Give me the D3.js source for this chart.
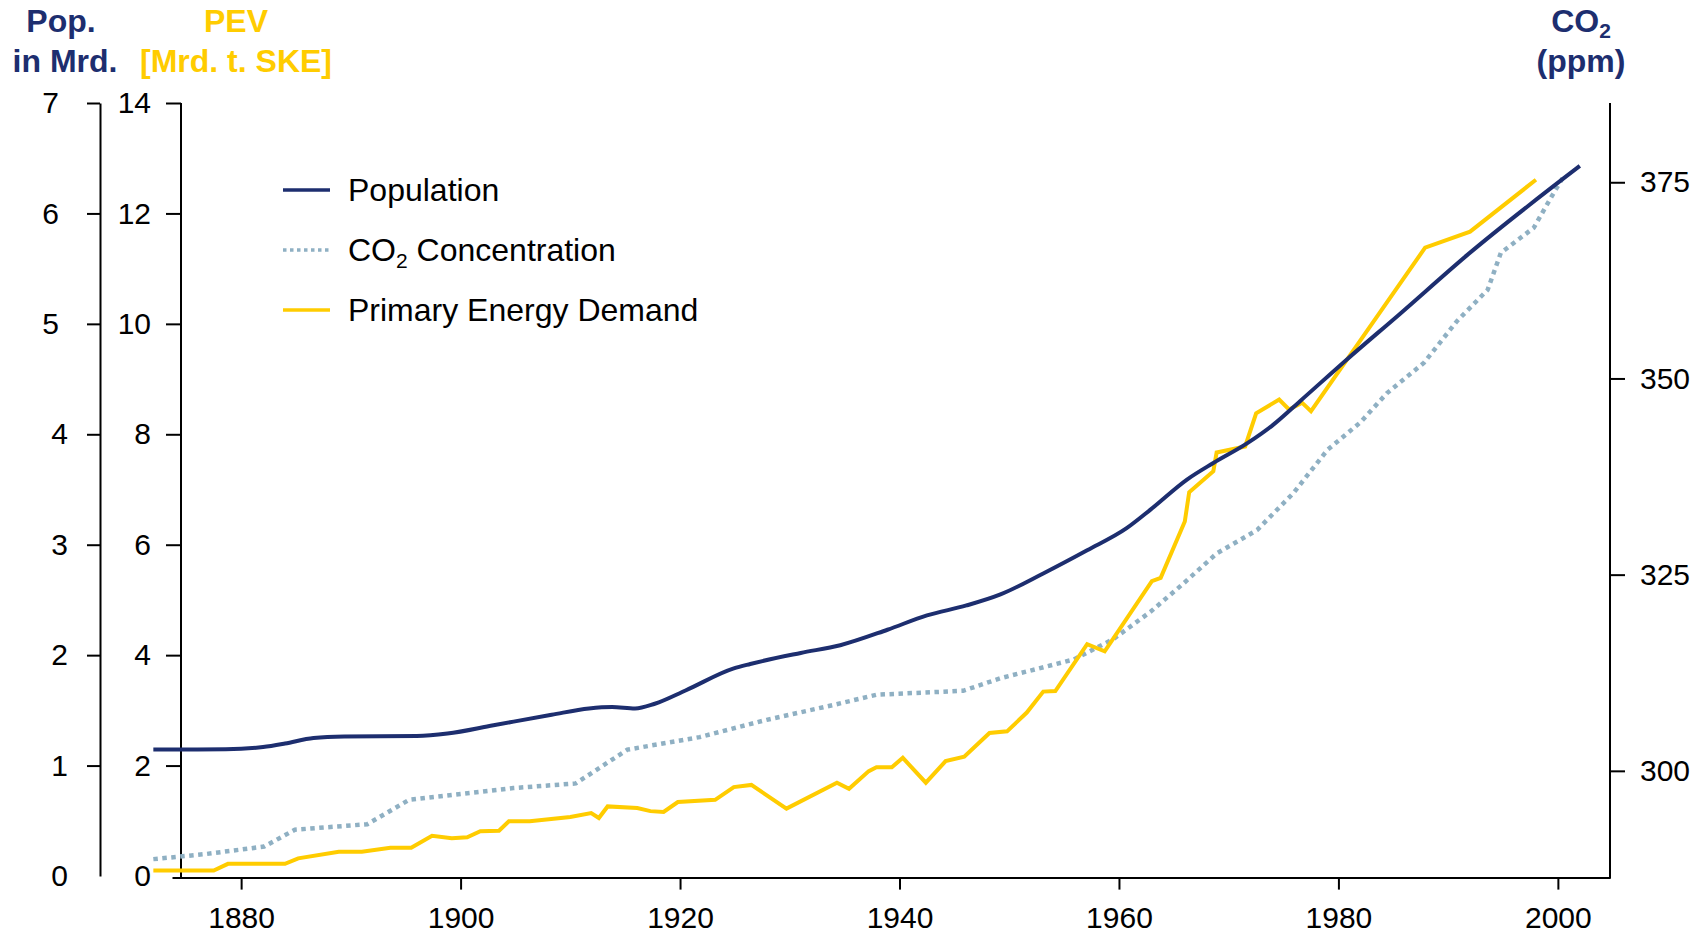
<!DOCTYPE html>
<html>
<head>
<meta charset="utf-8">
<script src="https://cdn.jsdelivr.net/npm/d3@7"></script>
<style>
body { margin:0; background:#fff; }
svg { font-family: "Liberation Sans", Arial, sans-serif; }
.axis path, .axis line { stroke:#000; stroke-width:2; }
.axis text { font-size:30px; fill:#000; font-family: "Liberation Sans", Arial, sans-serif; }
.title { font-size:32px; font-weight:bold; text-anchor:middle; }
.legend { font-size:32px; fill:#000; }
</style>
</head>
<body>
<script>
const w = 1703;
const h = 934;

const navy = "#1d2e6f";
const yellow = "#ffcc00";
const grey = "#8fb0c3";

// ticks
const xTicks = [1880, 1900, 1920, 1940, 1960, 1980, 2000];
const popTicks = [0, 1, 2, 3, 4, 5, 6, 7];
const pevTicks = [0, 2, 4, 6, 8, 10, 12, 14];
const co2Ticks = [300, 325, 350, 375];

// population, Mrd.
const popYears = [1872, 1878.6, 1882, 1884, 1886.6, 1889.4, 1896, 1898.8, 1903, 1908.3, 1911.7, 1913.8, 1915.9, 1917.7, 1920.5, 1924.9, 1926.4, 1931, 1934.6, 1938.9, 1942.5, 1946.1, 1949.2, 1953.1, 1957.1, 1960.7, 1962.9, 1966.2, 1968.6, 1971.7, 1974.1, 1976.5, 1980.8, 1985.6, 1991.7, 2002];
const popValues = [1.145, 1.147, 1.168, 1.20, 1.25, 1.263, 1.268, 1.29, 1.365, 1.46, 1.517, 1.53, 1.517, 1.56, 1.68, 1.88, 1.92, 2.02, 2.09, 2.23, 2.36, 2.45, 2.55, 2.74, 2.95, 3.15, 3.32, 3.59, 3.74, 3.92, 4.09, 4.30, 4.68, 5.09, 5.62, 6.43];

// primary energy demand, Mrd. t. SKE
const pevYears = [1872, 1877.5, 1878.8, 1884, 1885.2, 1888.9, 1891, 1893.6, 1895.5, 1897.4, 1899.2, 1900.6, 1901.8, 1903.5, 1904.4, 1906.3, 1910, 1911.9, 1912.6, 1913.4, 1916.1, 1917.3, 1918.5, 1919.8, 1923.2, 1924.9, 1926.5, 1929.7, 1934.3, 1935.4, 1937.2, 1937.9, 1939.3, 1940.3, 1942.4, 1944.2, 1945.9, 1948.2, 1949.8, 1951.6, 1953.1, 1954.2, 1957.1, 1958.7, 1963.0, 1963.8, 1966.0, 1966.4, 1968.6, 1968.9, 1971.5, 1972.5, 1974.6, 1975.5, 1976.7, 1977.5, 1987.9, 1992.0, 1998.0];
const pevValues = [0.10, 0.10, 0.22, 0.22, 0.32, 0.44, 0.44, 0.51, 0.51, 0.73, 0.685, 0.70, 0.81, 0.82, 0.99, 0.99, 1.07, 1.14, 1.05, 1.26, 1.23, 1.175, 1.16, 1.34, 1.38, 1.61, 1.65, 1.22, 1.69, 1.58, 1.90, 1.97, 1.97, 2.14, 1.69, 2.08, 2.16, 2.59, 2.62, 2.96, 3.34, 3.35, 4.20, 4.07, 5.34, 5.40, 6.42, 6.95, 7.33, 7.67, 7.78, 8.38, 8.63, 8.45, 8.57, 8.42, 11.38, 11.67, 12.61];

// CO2 concentration, ppm
const co2Years = [1872, 1876.8, 1882.1, 1884.9, 1891.5, 1895.3, 1904.8, 1910.5, 1915.2, 1921.8, 1927.9, 1934.0, 1937.9, 1945.8, 1949.2, 1955.9, 1959.5, 1962.9, 1965.9, 1968.9, 1972.6, 1975.9, 1979.0, 1982.0, 1984.4, 1987.8, 1990.8, 1993.6, 1994.8, 1997.8, 1999.6, 2000.5];
const co2Values = [288.75, 289.4, 290.35, 292.5, 293.2, 296.3, 297.8, 298.4, 302.7, 304.3, 306.5, 308.4, 309.7, 310.2, 311.8, 314.2, 316.8, 320.3, 323.9, 327.7, 330.7, 335.4, 340.9, 344.4, 348.1, 352.0, 357.3, 361.3, 366.0, 369.2, 373.6, 375.7];

const x = d3.scaleLinear().domain([1873.7, 2004.75]).range([172, 1610]);
const yPop = d3.scaleLinear().domain([0, 7]).range([876, 103]);
const yPev = d3.scaleLinear().domain([0, 14]).range([876, 103]);
const yCo2 = d3.scaleLinear().domain([286.6, 385.1]).range([876, 103]);

const svg = d3.select("body").append("svg")
    .attr("width", w)
    .attr("height", h);

// x axis
svg.append("g")
    .attr("class", "axis")
    .attr("transform", "translate(0,877.6)")
    .call(d3.axisBottom(x).tickValues(xTicks).tickFormat(d3.format("d"))
        .tickSize(12).tickPadding(17).tickSizeOuter(0));

// population axis
const gPop = svg.append("g")
    .attr("class", "axis")
    .attr("transform", "translate(100,0)")
    .call(d3.axisLeft(yPop).tickValues(popTicks).tickFormat(d3.format("d"))
        .tickSize(13).tickPadding(19).tickSizeOuter(0));
gPop.selectAll(".tick").filter(d => d === 0).select("line").remove();
// upper labels sit a little further left in the original
gPop.selectAll(".tick text").filter(d => d >= 5).attr("x", -41);

// PEV axis
const gPev = svg.append("g")
    .attr("class", "axis")
    .attr("transform", "translate(181,0)")
    .call(d3.axisLeft(yPev).tickValues(pevTicks)
        .tickSize(15).tickPadding(15).tickSizeOuter(0));
gPev.selectAll(".tick").filter(d => d === 0).select("line").remove();
gPev.select(".domain").attr("d", "M0," + yPev(14) + "V878.6");

// CO2 axis
svg.append("g")
    .attr("class", "axis")
    .attr("transform", "translate(1610,0)")
    .call(d3.axisRight(yCo2).tickValues(co2Ticks)
        .tickSize(15).tickPadding(15).tickSizeOuter(0))
    .select(".domain").attr("d", "M0," + yPev(14) + "V878.6");

// data lines
const co2Line = d3.line().x(d => x(d[0])).y(d => yCo2(d[1]));
const pevLine = d3.line().x(d => x(d[0])).y(d => yPev(d[1]));
const popLine = d3.line().x(d => x(d[0])).y(d => yPop(d[1])).curve(d3.curveMonotoneX);

svg.append("path")
    .datum(co2Years.map((y, i) => [y, co2Values[i]]))
    .attr("d", co2Line)
    .attr("fill", "none")
    .attr("stroke", grey)
    .attr("stroke-width", 4.5)
    .attr("stroke-dasharray", "4.5,4.5");

svg.append("path")
    .datum(pevYears.map((y, i) => [y, pevValues[i]]))
    .attr("d", pevLine)
    .attr("fill", "none")
    .attr("stroke", yellow)
    .attr("stroke-width", 4)
    .attr("stroke-linejoin", "miter");

svg.append("path")
    .datum(popYears.map((y, i) => [y, popValues[i]]))
    .attr("d", popLine)
    .attr("fill", "none")
    .attr("stroke", navy)
    .attr("stroke-width", 4);

// axis titles
svg.append("text").attr("class", "title").attr("fill", navy)
    .attr("x", 61).attr("y", 32).text("Pop.");
svg.append("text").attr("class", "title").attr("fill", navy)
    .attr("x", 65).attr("y", 72).text("in Mrd.");
svg.append("text").attr("class", "title").attr("fill", yellow)
    .attr("x", 236).attr("y", 32).text("PEV");
svg.append("text").attr("class", "title").attr("fill", yellow)
    .attr("x", 236).attr("y", 72).text("[Mrd. t. SKE]");
const co2Title = svg.append("text").attr("class", "title").attr("fill", navy)
    .attr("x", 1581).attr("y", 32);
co2Title.append("tspan").text("CO");
co2Title.append("tspan").attr("dy", 6).attr("font-size", 21).text("2");
svg.append("text").attr("class", "title").attr("fill", navy)
    .attr("x", 1581).attr("y", 72).text("(ppm)");

// legend
const legend = [
    {label: "Population", color: navy, dash: null},
    {label: "CO2 Concentration", color: grey, dash: "3.5,3.5"},
    {label: "Primary Energy Demand", color: yellow, dash: null}
];
const lg = svg.append("g")
    .selectAll("g")
    .data(legend)
    .enter().append("g")
    .attr("transform", (d, i) => "translate(283," + (190 + i * 60) + ")");
lg.append("line")
    .attr("x1", 0).attr("x2", 47)
    .attr("stroke", d => d.color)
    .attr("stroke-width", 3.5)
    .attr("stroke-dasharray", d => d.dash);
lg.each(function(d) {
    const t = d3.select(this).append("text")
        .attr("class", "legend")
        .attr("x", 65).attr("y", 11);
    if (d.label.startsWith("CO2")) {
        t.append("tspan").text("CO");
        t.append("tspan").attr("dy", 7).attr("font-size", 21).text("2");
        t.append("tspan").attr("dy", -7).text(" Concentration");
    } else {
        t.text(d.label);
    }
});
</script>
</body>
</html>
